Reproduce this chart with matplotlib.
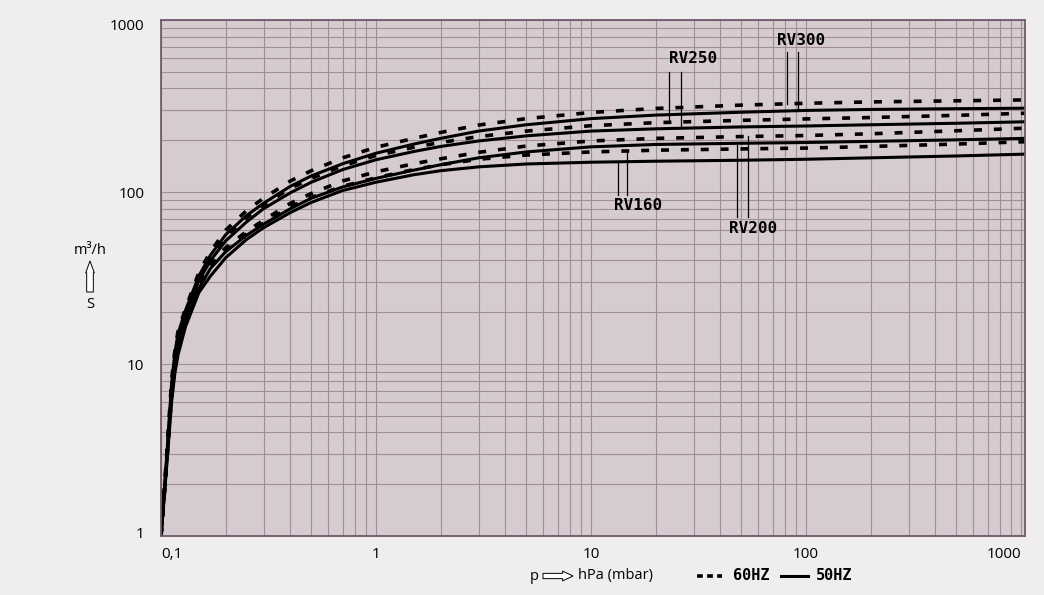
import numpy as np
import matplotlib.pyplot as plt
from matplotlib.lines import Line2D
from matplotlib.ticker import NullFormatter
from matplotlib.transforms import ScaledTranslation

# pressure p in hPa (mbar)
pressure = [0.1, 0.104, 0.108, 0.112, 0.116, 0.12, 0.13, 0.15, 0.17, 0.2, 0.25, 0.3,
            0.4, 0.5, 0.7, 1, 1.5, 2, 3, 5, 10, 20, 50, 100, 200, 500, 1044]

# pumping speed S in m3/h
rv300_60 = [1, 2.0, 4.0, 8.0, 12.0, 15.5, 21, 34, 45, 60, 78, 92,
            116, 133, 158, 182, 205, 222, 245, 267, 290, 306, 320, 328, 334, 339, 343]
rv300_50 = [1, 1.95, 3.9, 7.7, 11.6, 15.0, 20.5, 32.5, 43, 56.5, 73, 86,
            108, 124, 146, 168, 190, 205, 226, 246, 267, 280, 291, 298, 302, 305, 307]
rv250_60 = [1, 1.95, 3.8, 7.5, 11.2, 14.5, 20, 32, 42, 55, 71, 84,
            105, 120, 142, 163, 182, 194, 210, 226, 243, 253, 261, 266, 271, 279, 287]
rv250_50 = [1, 1.9, 3.7, 7.2, 10.8, 14.0, 19.2, 30.5, 40, 52, 67, 80,
            99, 114, 135, 154, 172, 184, 198, 212, 226, 233, 239, 242, 246, 251, 256]
rv200_60 = [1, 1.9, 3.6, 6.9, 10.2, 13.0, 18.5, 29, 38.5, 47.5, 59, 68.5,
            86, 98, 116, 131, 146, 156, 170, 185, 198, 205, 210, 213, 218, 227, 235]
rv200_50 = [1, 1.85, 3.5, 6.5, 9.6, 12.3, 17.6, 27.5, 36, 45, 56, 65,
            80, 92, 107, 120, 134, 144, 158, 171, 183, 189, 192, 194, 197, 201, 205]
rv160_60 = [1, 1.85, 3.5, 6.6, 9.8, 12.5, 17.8, 28, 36.5, 45.5, 57, 66,
            82, 93, 108, 121, 135, 144, 155, 164, 171, 175, 178, 180, 184, 190, 196]
rv160_50 = [1, 1.8, 3.3, 6.0, 8.8, 11.3, 16.5, 26, 32.5, 41.5, 53, 62,
            76, 87, 102, 114, 126, 133, 140, 145.5, 149, 151, 153, 155, 158, 162, 166]

x_ticks = [0.1, 1, 10, 100, 1000]
x_labels = ["0,1", "1", "10", "100", "1000"]
y_ticks = [1, 10, 100, 1000]
y_labels = ["1", "10", "100", "1000"]

W, H = 1044, 595
fig = plt.figure(figsize=(W / 100, H / 100), dpi=100, facecolor="#f0eded")
ax = fig.add_axes([161 / W, 59 / H, 864 / W, 516 / H])
ax.set_facecolor("#d6cbcf")
ax.set_xscale("log")
ax.set_yscale("log")
ax.set_xlim(0.1, 1044)
ax.set_ylim(1, 1000)

ax.grid(which="both", color="#a08d9a", lw=0.8)
ax.set_axisbelow(True)
for s in ax.spines.values():
    s.set_color("#6f5a6d")
    s.set_linewidth(1.3)

ax.set_xticks(x_ticks, labels=x_labels)
ax.set_yticks(y_ticks, labels=y_labels)
ax.xaxis.set_minor_formatter(NullFormatter())
ax.yaxis.set_minor_formatter(NullFormatter())
ax.tick_params(which="both", length=0)
ax.tick_params(axis="x", pad=8)
ax.tick_params(axis="y", pad=12)
for lab in ax.get_xticklabels() + ax.get_yticklabels():
    lab.set_fontfamily("Open Sans")
    lab.set_fontsize(11)
ax.get_xticklabels()[0].set_ha("left")
ax.get_xticklabels()[-1].set_ha("right")
# first and last y labels sit a little inside the axis range
ylabs = ax.get_yticklabels()
ylabs[0].set_transform(ylabs[0].get_transform() + ScaledTranslation(0, 4 / 100, fig.dpi_scale_trans))
ylabs[-1].set_transform(ylabs[-1].get_transform() + ScaledTranslation(0, -5 / 100, fig.dpi_scale_trans))

dash = (0, (2.2, 3.3))
curves_60 = [rv300_60, rv250_60, rv200_60, rv160_60]
curves_50 = [rv300_50, rv250_50, rv200_50, rv160_50]
for v in curves_50:
    ax.plot(pressure, v, color="black", lw=2.2, solid_capstyle="butt")
for v in curves_60:
    ax.plot(pressure, v, color="black", lw=2.6, ls=dash)


def value_at(p, vals):
    return 10 ** np.interp(np.log10(p), np.log10(pressure), np.log10(vals))


mono = dict(family="DejaVu Sans Mono", weight="bold", fontsize=11.5,
            ha="center", va="center")

# model labels with leader lines down/up to their two curves
ax.text(94.5, 755, "RV300", **mono)
for p, v in [(81.8, rv300_60), (92.0, rv300_50)]:
    ax.plot([p, p], [649, value_at(p, v)], color="black", lw=0.9)

ax.text(29.7, 598, "RV250", **mono)
for p, v in [(23.1, rv250_60), (26.1, rv250_50)]:
    ax.plot([p, p], [497, value_at(p, v)], color="black", lw=0.9)

ax.text(16.6, 83, "RV160", **mono)
for p, v in [(13.3, rv160_50), (14.7, rv160_60)]:
    ax.plot([p, p], [96, value_at(p, v)], color="black", lw=0.9)

ax.text(56.5, 61, "RV200", **mono)
for p, v in [(47.8, rv200_50), (53.7, rv200_60)]:
    ax.plot([p, p], [72, value_at(p, v)], color="black", lw=0.9)


def fy(py):
    return (H - py) / H


def fx(px):
    return px / W


sans = dict(family="Open Sans", fontsize=10.5, color="black")

# x axis label
fig.text(fx(534), fy(576), "p", ha="center", va="center", **sans)
fig.text(fx(578), fy(576), "hPa (mbar)", ha="left", va="center", **sans)
ax.annotate("", xy=(573, H - 576), xytext=(543, H - 576), xycoords="figure pixels",
            textcoords="figure pixels",
            arrowprops=dict(arrowstyle="simple,head_length=0.75,head_width=0.7,tail_width=0.38",
                            mutation_scale=10, fc="white", ec="black", lw=0.7,
                            shrinkA=0, shrinkB=0))

# y axis label
fig.text(fx(90), fy(251), "m³/h", ha="center", va="center", **sans)
fig.text(fx(90), fy(305), "S", ha="center", va="center", **sans)
ax.annotate("", xy=(90, H - 261), xytext=(90, H - 292), xycoords="figure pixels",
            textcoords="figure pixels",
            arrowprops=dict(arrowstyle="simple,head_length=0.85,head_width=0.62,tail_width=0.48",
                            mutation_scale=10, fc="white", ec="black", lw=0.7,
                            shrinkA=0, shrinkB=0))

# frequency legend
leg = dict(family="DejaVu Sans Mono", weight="bold", fontsize=11,
           ha="left", va="center")
fig.add_artist(Line2D([fx(697), fx(722)], [fy(576), fy(576)], transform=fig.transFigure,
                      color="black", lw=2.6, ls=(0, (1.6, 1.2))))
fig.text(fx(733), fy(576), "60HZ", **leg)
fig.add_artist(Line2D([fx(781), fx(808)], [fy(576), fy(576)], transform=fig.transFigure,
                      color="black", lw=2.2))
fig.text(fx(816), fy(576), "50HZ", **leg)

fig.savefig("out.png", dpi=100, facecolor=fig.get_facecolor())
